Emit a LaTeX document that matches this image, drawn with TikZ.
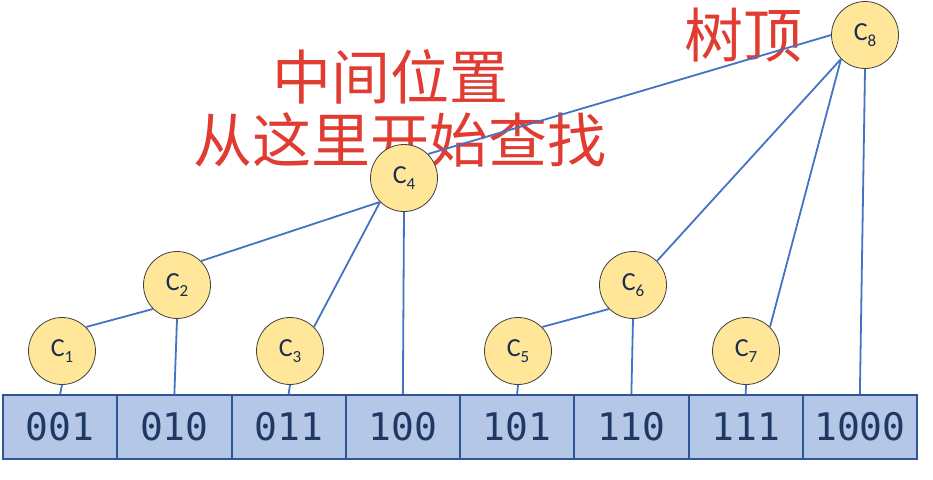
\documentclass[tikz,border=0pt]{standalone}
\usepackage{fontspec}
\setmainfont{Carlito}
\newfontfamily\cjk{Noto Sans CJK SC}
\newfontfamily\monof{DejaVu Sans Mono}
\definecolor{cellfill}{HTML}{B4C7E7}
\definecolor{celldraw}{HTML}{2F5597}
\definecolor{celltext}{HTML}{1F3864}
\definecolor{nodefill}{HTML}{FFE699}
\definecolor{nodedraw}{HTML}{404040}
\definecolor{linkblue}{HTML}{4472C4}
\definecolor{redtxt}{RGB}{224,60,50}
\tikzset{
  cnode/.style={circle,draw=nodedraw,line width=0.8pt,fill=nodefill,minimum size=67pt,inner sep=0pt,font=\fontsize{26}{30}\selectfont,text=celltext!80!black},
  cell/.style={rectangle,draw=celldraw,line width=2pt,fill=cellfill,minimum width=114.25pt,minimum height=64pt,inner sep=0pt,font=\monof\fontsize{38}{40}\selectfont,text=celltext},
  link/.style={draw=linkblue,line width=1.8pt},
  redlabel/.style={font=\cjk\fontsize{59}{60}\selectfont,text=redtxt,inner sep=0pt}
}
\newcommand{\cl}[1]{C\raisebox{-0.24em}{\fontsize{17}{17}\selectfont #1}}
\begin{document}
\begin{tikzpicture}[x=1pt,y=-1pt]
\useasboundingbox (0,0) rectangle (933,479);
% red texts
\node[redlabel] (t1) at (390,77) {中间位置};
\node[redlabel] (t2) at (400,140) {从这里开始查找};
\node[redlabel] (t3) at (743,35) {树顶};
% cells
\foreach \i/\t in {1/001,2/010,3/011,4/100,5/101,6/110,7/111,8/1000}{
  \node[cell] (cell\i) at ({3+114.25*(\i-0.5)},427) {\t};
}
% nodes
\node[cnode] (c1) at (62,351) {\cl{1}};
\node[cnode] (c2) at (177,285) {\cl{2}};
\node[cnode] (c3) at (290,351) {\cl{3}};
\node[cnode] (c4) at (404,178) {\cl{4}};
\node[cnode] (c5) at (518,351) {\cl{5}};
\node[cnode] (c6) at (633,285) {\cl{6}};
\node[cnode] (c7) at (746,351) {\cl{7}};
\node[cnode] (c8) at (865,35) {\cl{8}};
% links
\draw[link] (c1.45) -- (c2.225);
\draw[link] (c2.45) -- (c4.225);
\draw[link] (c3.45) -- (c4.225);
\draw[link] (c4.45) -- (c8.west);
\draw[link] (c5.45) -- (c6.225);
\draw[link] (c6.45) -- (c8.225);
\draw[link] (c7.45) -- (c8.225);
\foreach \i in {1,...,8}{
  \draw[link] (c\i.south) -- (cell\i.north);
}
\end{tikzpicture}
\end{document}
